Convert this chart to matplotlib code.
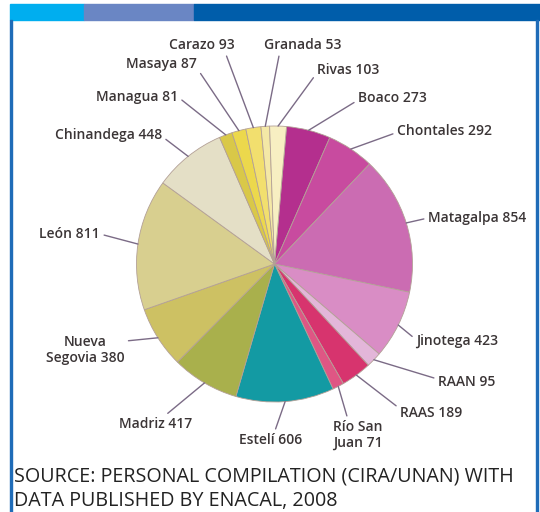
import matplotlib.pyplot as plt
from matplotlib.patches import Rectangle
import numpy as np

plt.rcParams['font.family'] = ['Open Sans', 'DejaVu Sans']

# departments, clockwise from the top of the pie
depts = ['Boaco', 'Chontales', 'Matagalpa', 'Jinotega', 'RAAN', 'RAAS',
         'Río San\nJuan', 'Estelí', 'Madriz', 'Nueva\nSegovia', 'León',
         'Chinandega', 'Managua', 'Masaya', 'Carazo', 'Granada', 'Rivas']
counts = [273, 292, 854, 423, 95, 189, 71, 606, 417, 380, 811, 448,
          81, 87, 93, 53, 103]
colors = ['#b42f8e', '#c84b9f', '#cb6cb2', '#d98dc5', '#e3b6d9', '#d7346e',
          '#df5684', '#139aa3', '#a9b04c', '#cdc163', '#d8cf8f', '#e4dfc6',
          '#d9c848', '#ecd84c', '#f2df6e', '#f4e8a6', '#f7efc2']

# label placement: x, y (pixels from top), ha, line attach point on text box
label_pos = [
    (358, 98, 'left', (0, 0.35)),
    (397, 131, 'left', (0, 0.4)),
    (428, 218, 'left', (0, 0.5)),
    (416, 341, 'left', (0, 0.6)),
    (438, 382, 'left', (0, 0.7)),
    (400, 413, 'left', (0, 0.8)),
    (358, 435, 'center', (0.3, 1)),
    (271, 440, 'center', (0.55, 1)),
    (156, 424, 'center', (0.6, 1)),
    (85, 350, 'center', (0.78, 0.74)),
    (100, 234, 'right', (1, 0.5)),
    (162, 135, 'right', (1, 0.4)),
    (178, 97, 'right', (1, 0.5)),
    (197, 64, 'right', (1, 0.2)),
    (202, 45, 'center', (0.85, 0)),
    (303, 45, 'center', (0.2, 0)),
    (317, 70, 'left', (0, 0.3)),
]

W, H = 540, 512
fig = plt.figure(figsize=(W / 100, H / 100), dpi=100)
fig.patch.set_facecolor('white')

# header strip and frame
fig.patches.append(Rectangle((10 / W, 1 - 20 / H), 74 / W, 16 / H, transform=fig.transFigure,
                             color='#00aeef', zorder=5))
fig.patches.append(Rectangle((84 / W, 1 - 20 / H), 110 / W, 16 / H, transform=fig.transFigure,
                             color='#6a86c4', zorder=5))
fig.patches.append(Rectangle((194 / W, 1 - 20 / H), (W - 194) / W, 16 / H, transform=fig.transFigure,
                             color='#005daa', zorder=5))
fig.patches.append(Rectangle((10 / W, 0), 2 / W, 1 - 20 / H, transform=fig.transFigure,
                             color='#1f6cb8', zorder=5))
fig.patches.append(Rectangle((536 / W, 0), 2 / W, 1 - 20 / H, transform=fig.transFigure,
                             color='#1f6cb8', zorder=5))

cx, cy, r = 274.5, 264, 138
ax = fig.add_axes([(cx - r) / W, (H - cy - r) / H, 2 * r / W, 2 * r / H])
ax.set_aspect('equal')
start = 85
wedges, _ = ax.pie(counts, colors=colors, startangle=start, counterclock=False,
                   wedgeprops=dict(edgecolor='#b3a096', linewidth=0.6))
ax.set_xlim(-1, 1)
ax.set_ylim(-1, 1)
ax.axis('off')

for w, name, n, (tx, ty, ha, rel) in zip(wedges, depts, counts, label_pos):
    ang = np.deg2rad((w.theta1 + w.theta2) / 2)
    ax.annotate(f'{name} {n}', xy=(np.cos(ang), np.sin(ang)),
                xytext=(tx, H - ty), textcoords='figure pixels',
                ha=ha, va='center', fontsize=10, fontweight='semibold',
                color='#3b3536', multialignment='center', linespacing=1.15,
                arrowprops=dict(arrowstyle='-', color='#7b6b86', lw=1,
                                relpos=rel, shrinkA=1, shrinkB=0))

fig.text(14 / W, 1 - 489 / H, 'SOURCE: PERSONAL COMPILATION (CIRA/UNAN) WITH\nDATA PUBLISHED BY ENACAL, 2008',
         ha='left', va='center', fontsize=14.2, color='#222222', linespacing=1.32)

fig.savefig('out.png', dpi=100)
